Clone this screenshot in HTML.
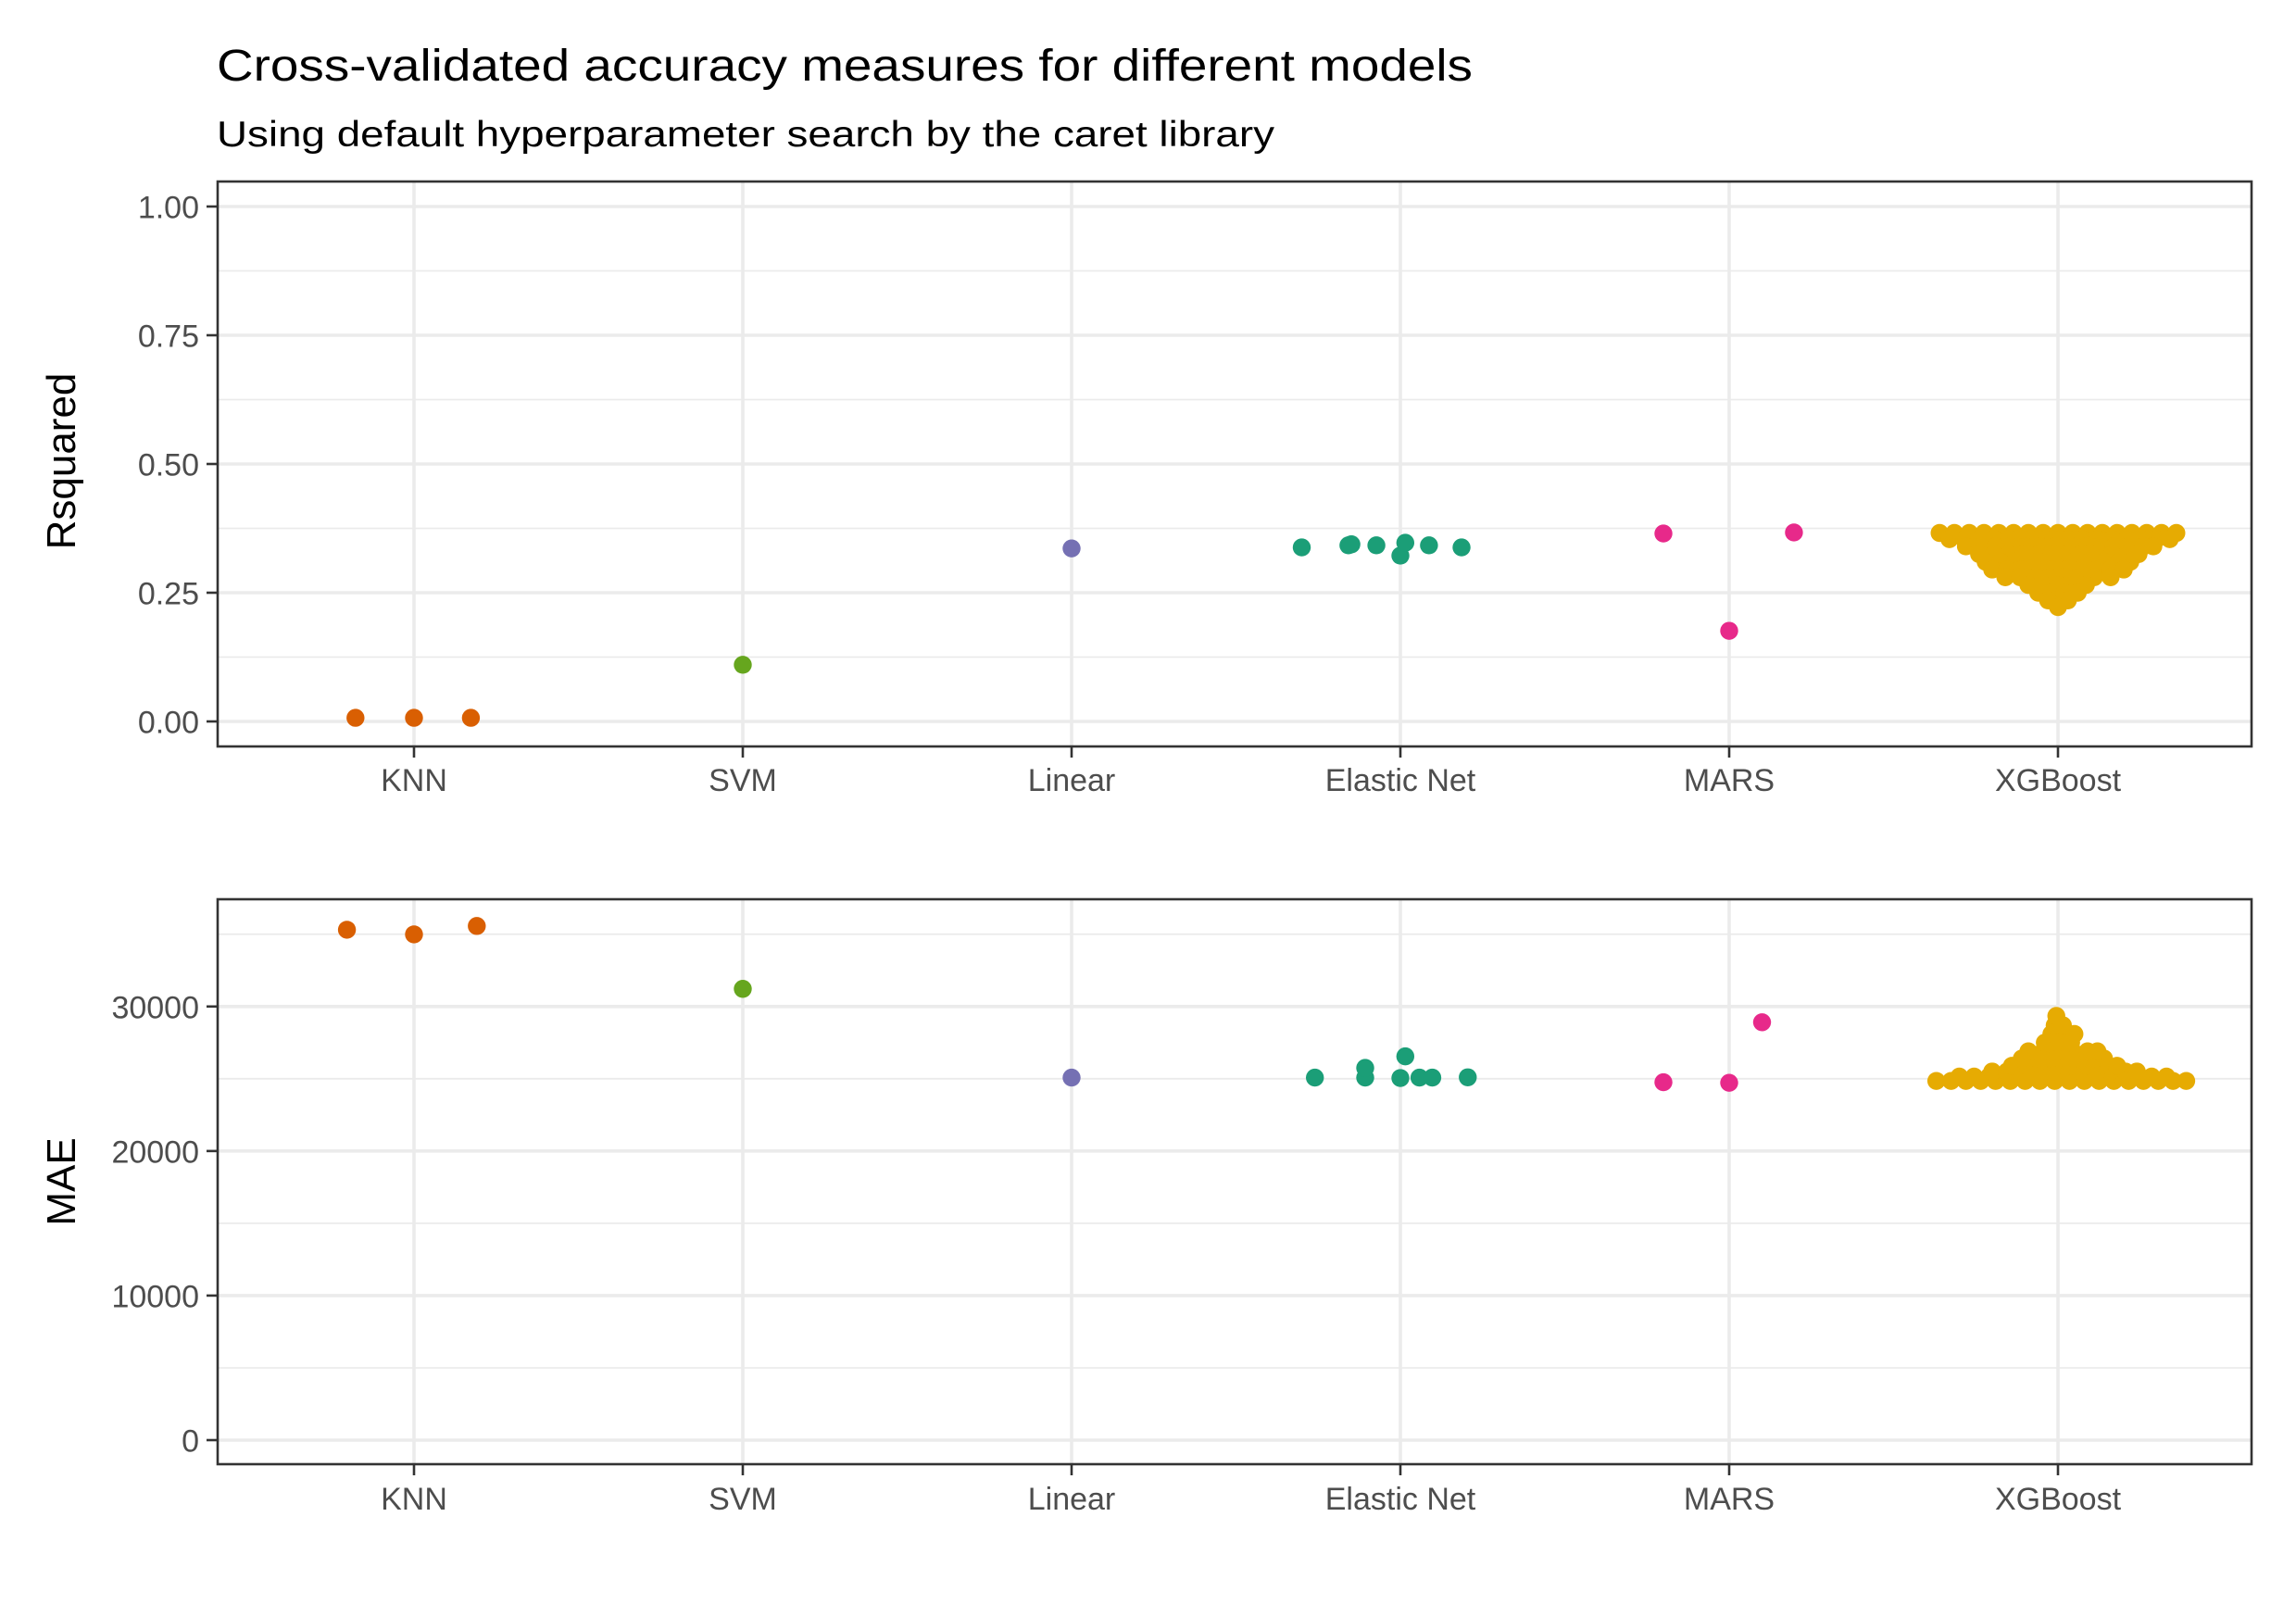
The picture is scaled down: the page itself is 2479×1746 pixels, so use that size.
<!DOCTYPE html>
<html><head><meta charset="utf-8"><style>
html,body{margin:0;padding:0;background:#fff}
svg{display:block}
text{font-family:"Liberation Sans",Arial,sans-serif}
</style></head><body>
<svg id="chart" width="2479" height="1746" viewBox="0 0 2479 1746" xmlns="http://www.w3.org/2000/svg">
<text x="234" y="87" font-size="48" fill="#000" textLength="1356" lengthAdjust="spacingAndGlyphs">Cross-validated accuracy measures for different models</text>
<text x="234" y="158" font-size="39" fill="#000" textLength="1142" lengthAdjust="spacingAndGlyphs">Using default hyperparameter search by the caret library</text>
<g id="p1"></g>
<g id="p2"></g>
</svg>
<script>
const categories = ["KNN","SVM","Linear","Elastic Net","MARS","XGBoost"];
const colors = ["#d95f02","#66a61e","#7570b3","#1b9e77","#e7298a","#e6ab02"];

// Rsquared panel, non-XGBoost models: category index, value, swarm offset
const r2Cat = [0,0,0, 1, 2, 3,3,3,3,3,3,3,3, 4,4,4];
const r2Val = [0.007,0.007,0.007, 0.110, 0.336, 0.338,0.342,0.344,0.342,0.322,0.347,0.342,0.338, 0.365,0.176,0.367];
const r2Off = [-0.178,0,0.173, 0, 0, -0.30,-0.158,-0.149,-0.073,0,0.015,0.087,0.186, -0.2,0,0.197];

// XGBoost Rsquared swarm: row values and offsets of each point in that row
const xgbR2Vals = [0.366,0.354,0.340,0.325,0.310,0.295,0.280,0.265,0.250,0.235,0.222];
const xgbR2Offs = [
 [-0.36,-0.315,-0.27,-0.225,-0.18,-0.135,-0.09,-0.045,0,0.045,0.09,0.135,0.18,0.225,0.27,0.315,0.36],
 [-0.33,-0.285,-0.24,-0.195,-0.15,-0.105,-0.06,-0.015,0.03,0.075,0.12,0.165,0.21,0.255,0.30,0.34],
 [-0.28,-0.235,-0.19,-0.145,-0.10,-0.055,-0.01,0.035,0.08,0.125,0.17,0.215,0.26,0.29],
 [-0.24,-0.195,-0.15,-0.105,-0.06,-0.015,0.03,0.075,0.12,0.165,0.21,0.245],
 [-0.22,-0.175,-0.13,-0.085,-0.04,0.005,0.05,0.095,0.14,0.185,0.22],
 [-0.20,-0.155,-0.11,-0.065,-0.02,0.025,0.07,0.115,0.16,0.20],
 [-0.16,-0.115,-0.07,-0.025,0.02,0.065,0.11,0.16],
 [-0.09,-0.045,0,0.045,0.085],
 [-0.06,-0.02,0.02,0.06],
 [-0.03,0.03],
 [0]
];

// MAE panel, non-XGBoost models
const maeCat = [0,0,0, 1, 2, 3,3,3,3,3,3,3,3, 4,4,4];
const maeVal = [35310,34990,35570, 31220, 25080, 25080,25080,25750,25050,26550,25080,25080,25100, 24760,24720,28910];
const maeOff = [-0.204,0,0.191, 0, 0, -0.26,-0.107,-0.107,0,0.015,0.058,0.097,0.205, -0.2,0,0.1];

// XGBoost MAE swarm
const xgbMaeVals = [24850,25150,25500,25900,26400,26900,27500,28100,28700,29350];
const xgbMaeOffs = [
 [-0.37,-0.325,-0.28,-0.235,-0.19,-0.145,-0.10,-0.055,-0.01,0.035,0.08,0.125,0.17,0.215,0.26,0.305,0.35,0.39],
 [-0.30,-0.255,-0.21,-0.165,-0.12,-0.075,-0.03,0.015,0.06,0.105,0.15,0.195,0.24,0.285,0.33],
 [-0.20,-0.155,-0.11,-0.065,-0.02,0.025,0.07,0.115,0.16,0.205,0.24],
 [-0.14,-0.095,-0.05,-0.005,0.04,0.085,0.13,0.18],
 [-0.11,-0.065,-0.02,0.025,0.07,0.115,0.14],
 [-0.09,-0.045,0,0.045,0.09,0.12],
 [-0.04,0,0.04],
 [-0.02,0.02,0.05],
 [-0.01,0.015],
 [-0.005]
];

const r2Ticks = [0,0.25,0.5,0.75,1.0];
const r2TickLabels = ["0.00","0.25","0.50","0.75","1.00"];
const maeTicks = [0,10000,20000,30000];
const maeTickLabels = ["0","10000","20000","30000"];

const NS = "http://www.w3.org/2000/svg";
const L = 235, R = 2431, X0 = 447, DX = 355;
function xPos(c, off){ return X0 + (c + off) * DX; }
function mk(tag, attrs, parent){ const e=document.createElementNS(NS,tag); for(const k in attrs) e.setAttribute(k,attrs[k]); parent.appendChild(e); return e; }

function addSwarm(cats, vals, offs, rowVals, rowOffs){
  const c=cats.slice(), v=vals.slice(), o=offs.slice();
  rowVals.forEach((rv,i)=>{ rowOffs[i].forEach(ro=>{ c.push(5); v.push(rv); o.push(ro); }); });
  return [c,v,o];
}

function drawPanel(g, top, bottom, yScale, ticks, labels, cats, vals, offs, title, titleY, xLabelY, minorTicks){
  const bg = mk("rect",{x:L,y:top,width:R-L,height:bottom-top,fill:"#fff"},g);
  
  
  minorTicks.forEach(v=>{
    const ln = mk("line",{x1:L,x2:R,y1:yScale(v),y2:yScale(v),stroke:"#ebebeb","stroke-width":1.8},g);
    
    
  });
  ticks.forEach(v=>{
    const ln = mk("line",{x1:L,x2:R,y1:yScale(v),y2:yScale(v),stroke:"#ebebeb","stroke-width":3.6},g);
    
    
  });
  categories.forEach((c,i)=>{
    const ln = mk("line",{x1:xPos(i,0),x2:xPos(i,0),y1:top,y2:bottom,stroke:"#ebebeb","stroke-width":3.6},g);
    
    
  });
  vals.forEach((v,i)=>{
    const c = mk("circle",{cx:xPos(cats[i],offs[i]),cy:yScale(v),r:9.7,fill:colors[cats[i]]},g);
    
    
  });
  const br = mk("rect",{x:L,y:top,width:R-L,height:bottom-top,fill:"none",stroke:"#333","stroke-width":2.6},g);
  
  
  ticks.forEach((v,i)=>{
    const y=yScale(v);
    const t = mk("line",{x1:L-12,x2:L,y1:y,y2:y,stroke:"#333","stroke-width":2.6},g);
    
    
    const tx = mk("text",{x:L-20,y:y+12.5,"font-size":34,fill:"#4d4d4d","text-anchor":"end"},g);
    tx.textContent = labels[i];
    
    
  });
  categories.forEach((c,i)=>{
    const x=xPos(i,0);
    const t = mk("line",{x1:x,x2:x,y1:bottom,y2:bottom+12,stroke:"#333","stroke-width":2.6},g);
    
    
    const tx = mk("text",{x:x,y:xLabelY,"font-size":34,fill:"#4d4d4d","text-anchor":"middle"},g);
    tx.textContent = c;
    
    
  });
  const yt = mk("text",{x:0,y:0,"font-size":44,fill:"#000","text-anchor":"middle",transform:"translate(81,"+titleY+") rotate(-90)"},g);
  yt.textContent = title;
  
  
}

const y1 = v => 779 - v*556;
const y2 = v => 1555 - v*0.015607;
const [c1,v1,o1] = addSwarm(r2Cat,r2Val,r2Off,xgbR2Vals,xgbR2Offs);
const [c2,v2,o2] = addSwarm(maeCat,maeVal,maeOff,xgbMaeVals,xgbMaeOffs);
drawPanel(document.getElementById('p1'),196,806,y1,r2Ticks,r2TickLabels,c1,v1,o1,"Rsquared",498,854,[0.125,0.375,0.625,0.875]);
drawPanel(document.getElementById('p2'),971,1581,y2,maeTicks,maeTickLabels,c2,v2,o2,"MAE",1276,1630,[5000,15000,25000,35000]);
</script>
</body></html>
